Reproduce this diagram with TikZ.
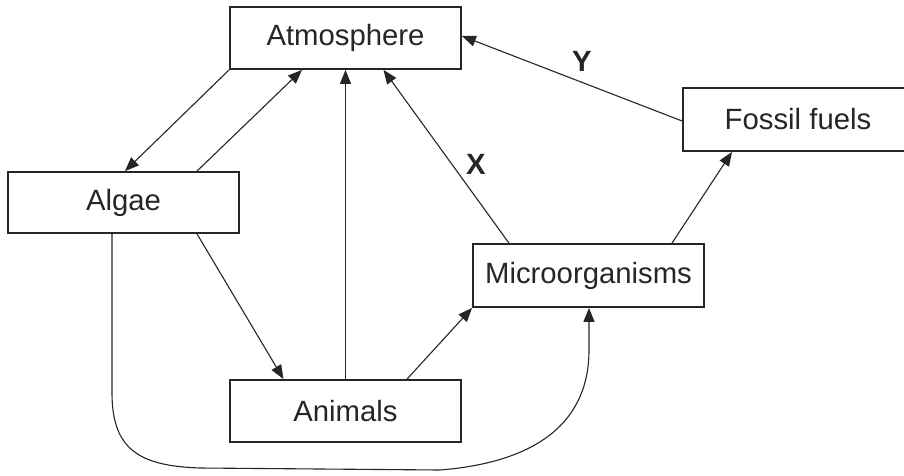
\documentclass[tikz,border=0pt]{standalone}
\usepackage{fontspec}
\setmainfont{Liberation Sans}
\usetikzlibrary{arrows.meta}
\begin{document}
\begin{tikzpicture}[x=1pt,y=-1pt,
  box/.style={draw=black!85,line width=1.8pt,minimum width=231pt,minimum height=62pt,inner sep=0pt,font=\fontsize{29.3}{31}\selectfont,text=black!85},
  conn/.style={draw=black!85,line width=1.1pt,-{Triangle[length=14pt,width=11pt]}},
  lab/.style={font=\fontsize{29.3}{31}\selectfont\bfseries,text=black!85}]
\clip (0,0) rectangle (904,476);
\fill[white] (0,0) rectangle (904,476);
\node[box] (atm) at (345.5,38) {Atmosphere};
\node[box,minimum height=61pt] (alg) at (123.5,202.5) {Algae};
\node[box,minimum width=230pt,minimum height=63pt] (fos) at (798,119.5) {Fossil fuels};
\node[box,minimum height=63pt] (mic) at (588.5,275.5) {Microorganisms};
\node[box] (ani) at (345.5,411) {Animals};
\draw[conn] (atm.south west) -- ([xshift=1.5pt]alg.north);
\draw[conn] ([xshift=73.5pt]alg.north) -- ([xshift=-43.5pt]atm.south);
\draw[conn] (ani.north) -- (atm.south);
\draw[conn] ([xshift=-79.5pt]mic.north) -- ([xshift=38pt]atm.south);
\draw[conn] ([yshift=-1.5pt]fos.west) -- ([yshift=2pt]atm.east);
\draw[conn] ([xshift=83.5pt]mic.north) -- ([xshift=-66pt]fos.south);
\draw[conn] ([xshift=73.5pt]alg.south) -- ([xshift=-62pt]ani.north);
\draw[conn] ([xshift=61.5pt]ani.north) -- (mic.south west);
\coordinate (c1) at (112,393);
\coordinate (c2) at (200,468);
\coordinate (c3) at (440,470);
\coordinate (c4) at (589,350);
\draw[conn] ([xshift=-11.5pt]alg.south) -- (c1) .. controls (112,450) and (140,466) .. (c2) -- (c3) .. controls (540,462) and (589,420) .. (c4) -- ([xshift=0.5pt]mic.south);
\node[lab] (X) at (476,164.5) {X};
\node[lab] (Y) at (582,61.5) {Y};
\end{tikzpicture}
\end{document}
